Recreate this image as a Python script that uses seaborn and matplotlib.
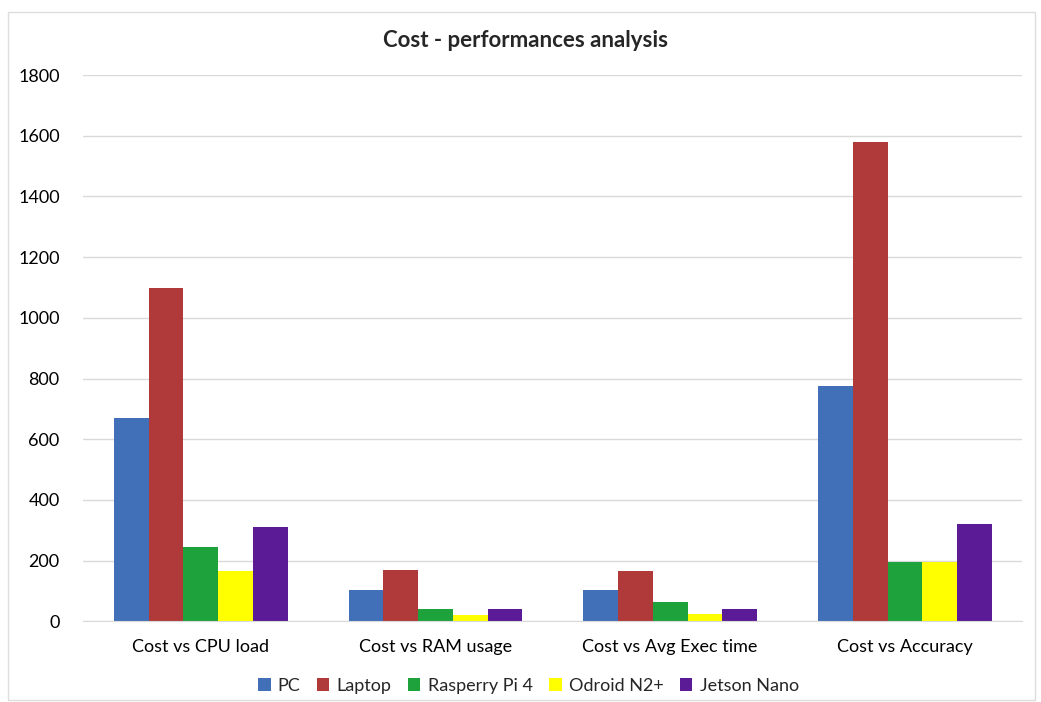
import pandas as pd
import seaborn as sns
import matplotlib.pyplot as plt
from matplotlib.patches import Rectangle

# Data
categories = ["Cost vs CPU load", "Cost vs RAM usage", "Cost vs Avg Exec time", "Cost vs Accuracy"]
devices = ["PC", "Laptop", "Rasperry Pi 4", "Odroid N2+", "Jetson Nano"]
pc = [670, 102, 102, 776]
laptop = [1100, 170, 166, 1578]
rpi4 = [245, 41, 62, 194]
odroid = [165, 20, 25, 196]
jetson = [310, 39, 42, 322]
colors = ["#4170b8", "#b03a3a", "#1ea33c", "#ffff00", "#5c1b96"]

rows = []
for dev, vals in zip(devices, [pc, laptop, rpi4, odroid, jetson]):
    for cat, v in zip(categories, vals):
        rows.append({"category": cat, "device": dev, "value": v})
df = pd.DataFrame(rows)

sns.set_style("white")
plt.rcParams['font.family'] = ['Lato', 'DejaVu Sans']

fig = plt.figure(figsize=(10.41, 7.02), dpi=100)
ax = fig.add_axes([0.08, 0.115, 0.902, 0.778])

sns.barplot(data=df, x="category", y="value", hue="device", order=categories,
            hue_order=devices, palette=colors, width=0.74, saturation=1,
            edgecolor="none", linewidth=0, ax=ax)

ax.set_ylim(0, 1800)
ax.set_yticks(range(0, 1801, 200))
ax.yaxis.grid(True, color="#d9d9d9", linewidth=1)
ax.set_axisbelow(True)
for s in ["top", "right", "left"]:
    ax.spines[s].set_visible(False)
ax.spines["bottom"].set_color("#d9d9d9")
ax.tick_params(axis="both", length=0, labelsize=13, colors="#000000")
ax.tick_params(axis="x", pad=13)
ax.tick_params(axis="y", pad=17)
ax.set_xlabel("")
ax.set_ylabel("")

fig.text(0.505, 0.942, "Cost - performances analysis", ha="center", va="center",
         fontsize=16, fontweight="bold")

ax.legend(loc="center", bbox_to_anchor=(0.474, -0.118), ncol=5, frameon=False,
          fontsize=13, handlelength=0.7, handleheight=0.7, handletextpad=0.4,
          columnspacing=0.9)

fig.add_artist(Rectangle((0.008, 0.003), 0.986, 0.98, transform=fig.transFigure,
                         fill=False, edgecolor="#dddddd", linewidth=1))

fig.savefig("out.png", dpi=100)
